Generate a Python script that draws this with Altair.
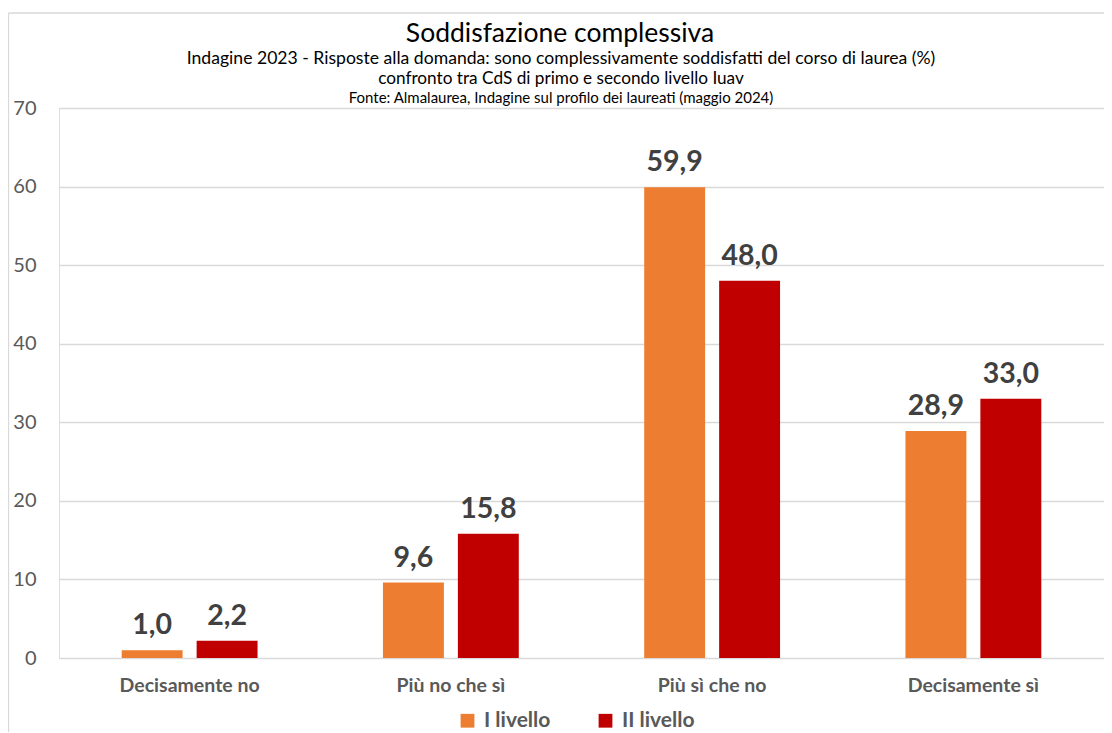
import altair as alt
import pandas as pd

categories = ["Decisamente no", "Più no che sì", "Più sì che no", "Decisamente sì"]
series = ["I livello", "II livello"]
livello_1 = [1.0, 9.6, 59.9, 28.9]
livello_2 = [2.2, 15.8, 48.0, 33.0]
colors = ["#ED7D31", "#C00000"]

title_text = "Soddisfazione complessiva"
subtitle_lines = [
    "Indagine 2023 - Risposte alla domanda: sono complessivamente soddisfatti del corso di laurea (%)",
    "confronto tra CdS di primo e secondo livello Iuav",
    "Fonte: Almalaurea, Indagine sul profilo dei laureati (maggio 2024)",
]

rows = []
for s, vals in zip(series, [livello_1, livello_2]):
    for c, v in zip(categories, vals):
        rows.append({"cat": c, "series": s, "value": v, "label": f"{v:.1f}".replace(".", ",")})
df = pd.DataFrame(rows)
one = pd.DataFrame({"k": [0]})

W, H = 1045, 550
FONT = "Lato"

x_enc = alt.X("cat:N", sort=categories, title=None,
              scale=alt.Scale(paddingInner=0.48, paddingOuter=0.24),
              axis=alt.Axis(labelAngle=0, domain=False, ticks=False, tickSize=0,
                            labelPadding=18, labelFontSize=19.5, labelFontWeight="bold",
                            labelColor="#595959", labelFont=FONT))
xo_enc = alt.XOffset("series:N", sort=series,
                     scale=alt.Scale(paddingInner=0.187, paddingOuter=0))
y_enc = alt.Y("value:Q", title=None,
              scale=alt.Scale(domain=[0, 70], nice=False),
              axis=alt.Axis(values=[0, 10, 20, 30, 40, 50, 60, 70], domain=False, ticks=False,
                            tickSize=0, labelPadding=23, labelFontSize=20, labelColor="#595959",
                            labelFont=FONT, gridColor="#D9D9D9", gridWidth=1.3))

base = alt.Chart(df)
bars = base.mark_bar().encode(
    x=x_enc, xOffset=xo_enc, y=y_enc,
    color=alt.Color("series:N", sort=series, title=None,
                    scale=alt.Scale(domain=series, range=colors),
                    legend=alt.Legend(orient="none", legendX=398, legendY=602,
                                      direction="horizontal", symbolType="square",
                                      symbolSize=190, symbolStrokeWidth=0,
                                      labelFontSize=21, labelFontWeight="bold",
                                      labelColor="#595959", labelFont=FONT,
                                      labelOffset=6, columnPadding=44)),
)
labels = base.mark_text(baseline="bottom", dy=-10, fontSize=28.5, fontWeight="bold",
                        color="#404040", font=FONT).encode(
    x=x_enc, xOffset=xo_enc, y=y_enc, text="label:N")

title = alt.Chart(one).mark_text(text=title_text, fontSize=26.5, color="#000000", font=FONT,
                                 fontWeight="normal", baseline="middle", align="center").encode(
    x=alt.value(501), y=alt.value(-74))
subs = []
for txt, yy, fs in zip(subtitle_lines, [-49.5, -29.5, -10.5], [17.6, 17.2, 15]):
    subs.append(alt.Chart(one).mark_text(text=txt, fontSize=fs, color="#000000", font=FONT,
                                         fontWeight="normal", baseline="middle",
                                         align="center").encode(
        x=alt.value(502), y=alt.value(yy)))

border_left = alt.Chart(one).mark_rule(color="#D9D9D9", strokeWidth=1.3).encode(
    x=alt.value(-50.5), y=alt.value(-95), y2=alt.value(H + 80))
border_top = alt.Chart(one).mark_rule(color="#D9D9D9", strokeWidth=1.3).encode(
    x=alt.value(-50.5), x2=alt.value(W + 10), y=alt.value(-95))

chart = alt.layer(border_left, border_top, bars, labels, title, *subs).properties(
    width=W, height=H,
    autosize=alt.AutoSizeParams(type="none"),
    padding={"left": 51, "top": 100, "right": 0, "bottom": 74},
).configure_view(stroke=None).configure(background="white")

chart.save("out.html", embed_options={"renderer": "svg", "actions": False})
